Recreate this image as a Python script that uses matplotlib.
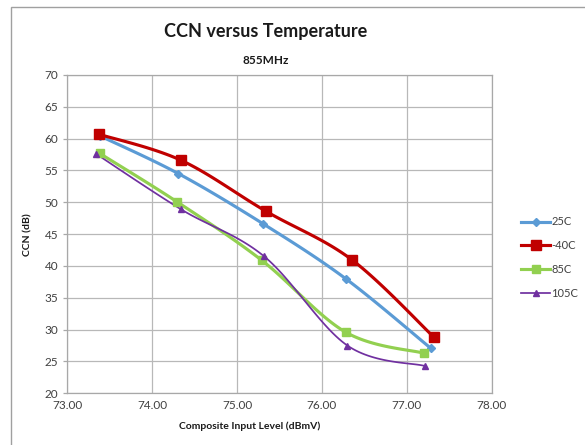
import numpy as np
import matplotlib
matplotlib.use("Agg")
import matplotlib.pyplot as plt
from matplotlib.lines import Line2D

plt.rcParams['font.family'] = ['Lato', 'DejaVu Sans']

series_names = ["25C", "-40C", "85C", "105C"]
x_25 = [73.39, 74.31, 75.31, 76.28, 77.28]
y_25 = [60.4, 54.5, 46.6, 38.0, 27.1]
x_m40 = [73.37, 74.34, 75.34, 76.35, 77.32]
y_m40 = [60.7, 56.6, 48.6, 41.0, 28.8]
x_85 = [73.38, 74.29, 75.29, 76.28, 77.20]
y_85 = [57.7, 50.1, 40.9, 29.6, 26.3]
x_105 = [73.34, 74.34, 75.32, 76.30, 77.21]
y_105 = [57.6, 48.9, 41.5, 27.5, 24.3]

x_ticks = [73.0, 74.0, 75.0, 76.0, 77.0, 78.0]
y_ticks = [20, 25, 30, 35, 40, 45, 50, 55, 60, 65, 70]

colors = ["#5B9BD5", "#C00000", "#92D050", "#7030A0"]
markers = ["D", "s", "s", "^"]
msizes = [4.5, 7, 6, 5]
lwidths = [2.25, 2.25, 2.25, 1.25]


def smooth(xs, ys, n=30):
    P = np.column_stack([xs, ys]).astype(float)
    m = len(P)
    out = []
    for i in range(m - 1):
        p0 = P[i - 1] if i > 0 else P[i]
        p1 = P[i]
        p2 = P[i + 1]
        p3 = P[i + 2] if i + 2 < m else P[i + 1]
        c1 = p1 + (p2 - p0) / 6.0
        c2 = p2 - (p3 - p1) / 6.0
        t = np.linspace(0, 1, n)[:, None]
        b = ((1 - t) ** 3) * p1 + 3 * ((1 - t) ** 2) * t * c1 + 3 * (1 - t) * t ** 2 * c2 + t ** 3 * p2
        out.append(b if i == 0 else b[1:])
    b = np.vstack(out)
    return b[:, 0], b[:, 1]


fig = plt.figure(figsize=(5.85, 4.45), dpi=100)
ax = fig.add_axes([0.115, 0.1162, 0.7255, 0.7153])

data = [(x_25, y_25), (x_m40, y_m40), (x_85, y_85), (x_105, y_105)]
handles = []
for (xs, ys), c, mk, ms, lw, name in zip(data, colors, markers, msizes, lwidths, series_names):
    sx, sy = smooth(xs, ys)
    ax.plot(sx, sy, color=c, lw=lw, solid_capstyle='round', zorder=3)
    ax.plot(xs, ys, linestyle='none', marker=mk, markersize=ms, color=c, zorder=4)
    handles.append(Line2D([0], [0], color=c, lw=lw, marker=mk, markersize=ms, label=name))

ax.set_xlim(73, 78)
ax.set_ylim(20, 70)
ax.set_xticks(x_ticks)
ax.set_xticklabels([f"{v:.2f}" for v in x_ticks])
ax.set_yticks(y_ticks)
ax.set_yticklabels([str(v) for v in y_ticks])
ax.grid(True, color="#b8b8b8", lw=0.9)
ax.set_axisbelow(True)
for s in ax.spines.values():
    s.set_color("#a8a8a8")
    s.set_linewidth(0.9)
ax.tick_params(axis='both', colors="#a8a8a8", labelcolor="#404040", labelsize=8.5, length=3, width=0.9)
ax.tick_params(axis='x', length=0, pad=5)

ax.set_xlabel("Composite Input Level (dBmV)", fontsize=7.5, fontweight='bold', color="#1a1a1a")
ax.xaxis.set_label_coords((250 - 67.3) / 424.4, -0.09)
ax.set_ylabel("CCN (dB)", fontsize=7.5, fontweight='bold', color="#1a1a1a")
ax.yaxis.set_label_coords(-(67.3 - 33) / 424.4, 0.5)

fig.text(266 / 585, 1 - 32 / 445, "CCN versus Temperature", ha='center', va='center',
         fontsize=13, fontweight='bold', color="#1a1a1a")
fig.text(266 / 585, 1 - 61 / 445, "855MHz", ha='center', va='center',
         fontsize=8.5, fontweight='bold', color="#1a1a1a")

leg = fig.legend(handles=handles, loc='upper left', bbox_to_anchor=(517 / 585, 1 - 212 / 445),
                 frameon=False, fontsize=8, handlelength=2.6, labelspacing=1.15,
                 handletextpad=0.1, borderaxespad=0)
for t in leg.get_texts():
    t.set_color("#404040")

# chart border
fig.add_artist(plt.Rectangle((11 / 585, -0.05), 1.2, 1 - 7 / 445 + 0.05, transform=fig.transFigure,
                             fill=False, edgecolor="#a0a0a0", lw=1.0))

fig.savefig("out.png", dpi=100)
